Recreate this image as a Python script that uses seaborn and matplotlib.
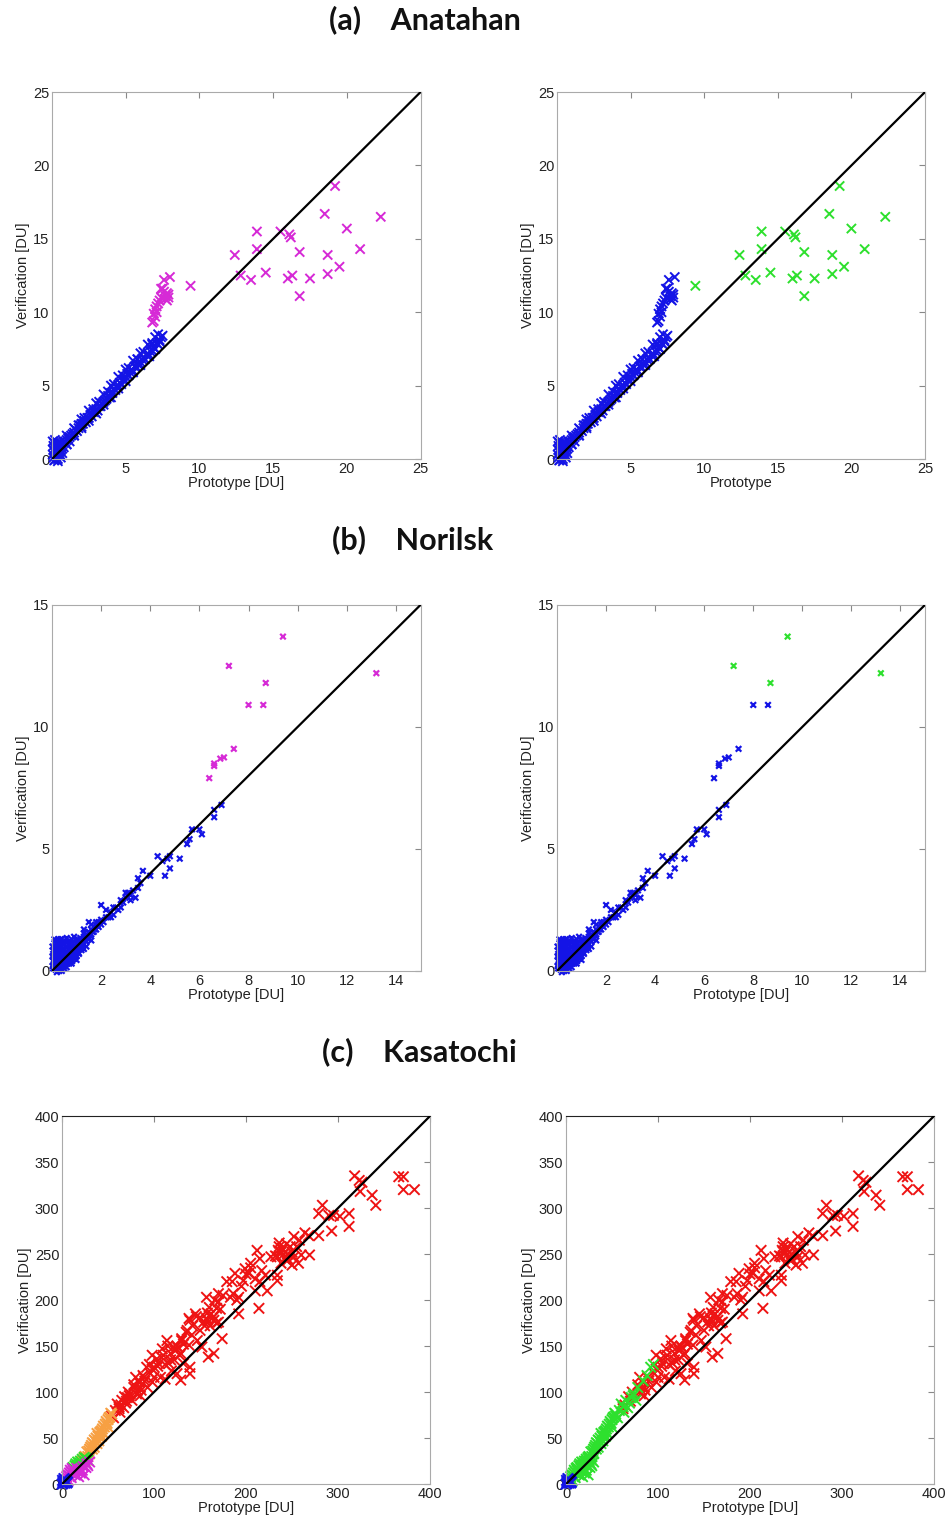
import pandas as pd
import seaborn as sns
import matplotlib.pyplot as plt

# ---------------- (a) Anatahan ----------------
ana_base_x = [0.05, 0.1, 0.1, 0.15, 0.2, 0.2, 0.25, 0.3, 0.3, 0.35, 0.4, 0.4, 0.45, 0.5, 0.5, 0.55,
              0.6, 0.6, 0.7, 0.7, 0.8, 0.8, 0.9, 1.0, 1.0, 1.1, 1.2, 1.2, 1.3, 1.4, 1.5, 1.5, 1.6,
              1.7, 1.8, 1.9, 2.0, 2.0, 2.1, 2.2, 2.3, 2.4, 2.5, 2.6, 2.7, 2.8, 2.9, 3.0, 3.1, 3.2,
              3.3, 3.4, 3.5, 3.6, 3.7, 3.8, 3.9, 4.0, 4.1, 4.2, 4.3, 4.4, 4.5, 4.6, 4.7, 4.8, 4.9,
              5.0, 5.1, 5.2, 5.3, 5.4, 5.5, 5.6, 5.7, 5.8, 5.9, 6.0, 6.1, 6.2, 6.3, 6.4, 6.5, 6.6,
              6.7, 6.8, 6.9, 7.0, 7.1, 7.2, 7.3, 7.4, 7.5,
              1.5, 2.5, 3.5, 4.5, 5.5, 6.5, 7.0, 3.0, 4.0, 5.0, 6.0, 2.0, 1.0, 7.3, 5.8, 6.8,
              0.5, 1.0, 1.5, 2.0, 2.5, 3.0, 3.5, 4.0, 4.5, 5.0, 5.5, 6.0, 6.5, 7.0,
              0.8, 1.8, 2.8, 3.8, 4.8, 5.8, 6.8, 2.2, 3.2, 4.2, 5.2, 6.2, 7.2,
              0.05, 0.1, 0.2, 0.3, 0.4, 0.6, 0.15, 0.5, 0.7]
ana_base_y = [0.3, 0.9, 0.1, 1.1, 0.5, -0.05, 0.8, 0.2, 1.0, 0.6, 0.0, 0.9, 0.5, 0.7, 1.1, 0.3,
              0.9, 0.6, 1.0, 0.7, 1.1, 0.8, 1.2, 1.3, 1.0, 1.4, 1.5, 1.2, 1.6, 1.7, 1.8, 1.6, 2.0,
              1.9, 2.1, 2.3, 2.2, 2.4, 2.4, 2.6, 2.5, 2.8, 2.8, 3.0, 2.9, 3.2, 3.2, 3.4, 3.3, 3.6,
              3.6, 3.8, 3.9, 4.0, 4.1, 4.3, 4.2, 4.5, 4.5, 4.8, 4.7, 4.9, 5.0, 5.2, 5.1, 5.4, 5.4,
              5.6, 5.8, 5.7, 5.9, 6.1, 6.0, 6.3, 6.3, 6.5, 6.4, 6.6, 6.8, 6.9, 6.8, 7.1, 7.2, 7.0,
              7.3, 7.4, 7.6, 7.5, 7.9, 7.8, 8.1, 8.3, 8.4,
              1.6, 2.6, 3.7, 4.8, 5.9, 7.0, 7.5, 3.1, 4.2, 5.3, 6.4, 2.1, 1.0, 8.0, 6.8, 7.9,
              1.0, 1.6, 2.1, 2.7, 3.3, 3.8, 4.4, 5.0, 5.6, 6.1, 6.7, 7.2, 7.8, 8.3,
              1.2, 2.3, 3.4, 4.6, 5.7, 6.8, 7.8, 2.8, 3.9, 5.1, 6.2, 7.3, 8.5,
              1.2, 0.6, 1.3, 0.4, -0.15, 0.1, -0.1, 0.4, 0.4]
ana_curve_x = [6.8, 6.9, 6.9, 7.0, 7.0, 7.1, 7.1, 7.2, 7.3, 7.4, 7.4, 7.5, 7.6, 7.6, 7.7, 7.7,
               7.8, 7.8, 7.9, 7.9, 8.0]
ana_curve_y = [9.3, 9.4, 9.9, 9.7, 10.2, 10.0, 10.4, 10.6, 10.8, 11.0, 11.6, 11.6, 12.2, 11.4,
               11.1, 10.9, 11.3, 10.8, 11.0, 11.2, 12.4]
ana_far_x = [9.4, 12.4, 12.8, 13.5, 13.9, 13.9, 14.5, 15.5, 16.1, 16.2, 16.0, 16.3, 16.8, 16.8,
             17.5, 18.5, 18.7, 18.7, 19.2, 19.5, 20.0, 20.9, 22.3]
ana_far_y = [11.8, 13.9, 12.5, 12.2, 15.5, 14.3, 12.7, 15.5, 15.3, 15.1, 12.3, 12.5, 14.1, 11.1,
             12.3, 16.7, 13.9, 12.6, 18.6, 13.1, 15.7, 14.3, 16.5]

# ---------------- (b) Norilsk ----------------
nor_base_x = [0.05, 0.05, 0.05, 0.1, 0.1, 0.1, 0.15, 0.15, 0.15, 0.2, 0.2, 0.2, 0.2, 0.25, 0.25,
              0.3, 0.3, 0.3, 0.3, 0.35, 0.35, 0.4, 0.4, 0.4, 0.45, 0.5, 0.5, 0.5, 0.55, 0.6, 0.6,
              0.6, 0.65, 0.7, 0.7, 0.7, 0.75, 0.8, 0.8, 0.85, 0.9, 0.9, 0.95, 1.0, 1.0, 1.05, 1.1,
              1.1, 1.2, 1.2, 1.3, 1.3, 1.4, 1.4, 1.5, 1.5, 1.6, 1.6, 1.7, 1.7, 1.8, 1.9, 1.9, 2.0,
              2.0, 2.1, 2.2, 2.3, 2.0, 1.5, 1.3, 0.3, 0.5, 0.7, 0.9, 1.1, 1.3, 0.15, 0.4, 0.8, 0.25,
              2.4, 2.5, 2.6, 2.7, 2.8, 2.9, 3.0, 3.1, 3.2, 3.3, 3.4, 3.5, 3.5, 3.6, 3.7, 4.0, 4.3,
              4.5, 4.6, 4.7, 4.8, 4.8, 5.2, 5.5, 5.6, 5.7, 6.0, 6.1, 6.6, 6.6, 6.9, 2.2,
              0.02, 0.02, 0.02, 0.08, 0.08, 0.12, 0.12, 0.12, 0.18, 0.18, 0.22, 0.22, 0.28, 0.28,
              0.28, 0.32, 0.32, 0.38, 0.38, 0.38, 0.42, 0.42, 0.48, 0.48, 0.52, 0.52, 0.58, 0.58,
              0.62, 0.62, 0.68, 0.68, 0.72, 0.78, 0.78, 0.82, 0.82, 0.88, 0.88, 0.92, 0.98, 0.98,
              1.02, 1.08, 1.08, 1.15, 1.15, 1.25, 1.25, 1.35, 1.45, 1.55, 1.65, 1.75, 1.85, 1.2,
              1.4, 1.6, 1.0, 0.1, 0.35, 0.6, 0.9, 1.3, 1.6, 1.8, 2.4, 2.5, 2.8, 3.0, 3.2,
              0.2, 0.4, 0.6, 0.8, 1.0]
nor_base_y = [0.1, 0.4, 0.7, 0.2, 0.5, 0.9, 0.05, 0.35, 0.7, 0.15, 0.5, 0.9, 1.1, 0.3, 0.7,
              0.1, 0.5, 0.9, 1.2, 0.3, 0.7, 0.2, 0.5, 1.0, 0.8, 0.3, 0.6, 1.1, 0.45, 0.4, 0.8,
              1.2, 0.6, 0.5, 0.9, 1.2, 0.7, 0.6, 1.0, 0.8, 0.7, 1.2, 0.95, 0.8, 1.1, 1.3, 0.9,
              1.2, 1.0, 1.3, 1.1, 1.4, 1.2, 1.5, 1.3, 1.6, 1.5, 1.7, 1.6, 1.8, 1.7, 1.8, 2.0, 1.9,
              2.1, 2.0, 2.2, 2.2, 2.7, 2.0, 1.7, 0.0, 0.1, 0.3, 0.5, 0.7, 0.9, 1.0, 1.3, 1.3, 1.3,
              2.4, 2.3, 2.6, 2.5, 2.9, 2.8, 3.0, 3.2, 3.1, 3.3, 3.0, 3.4, 3.8, 3.6, 4.1, 3.9, 4.7,
              4.5, 3.9, 4.6, 4.2, 4.7, 4.6, 5.2, 5.4, 5.8, 5.8, 5.6, 6.3, 6.6, 6.8, 2.5,
              0.2, 0.6, 1.0, 0.3, 0.8, 0.1, 0.6, 1.2, 0.25, 0.8, 0.4, 1.0, 0.2, 0.6,
              1.1, 0.35, 0.8, 0.15, 0.6, 1.15, 0.4, 0.9, 0.5, 1.2, 0.2, 0.85, 0.6, 1.0,
              0.3, 0.7, 0.45, 1.05, 0.75, 0.5, 0.9, 0.4, 1.15, 0.6, 1.0, 0.85, 0.65, 1.25,
              0.95, 0.75, 1.15, 1.05, 1.35, 0.95, 1.2, 1.25, 1.35, 1.45, 1.6, 1.7, 1.85, 0.85,
              1.0, 1.25, 0.6, 1.3, 1.3, 1.35, 1.4, 1.55, 1.9, 2.0, 2.2, 2.6, 2.6, 3.2, 2.9,
              -0.05, 0.0, 0.15, 0.3, 0.45]
nor_mid_x = [6.4, 6.6, 6.6, 6.85, 7.0, 7.4, 8.0, 8.6]
nor_mid_y = [7.9, 8.4, 8.5, 8.7, 8.75, 9.1, 10.9, 10.9]
nor_far_x = [7.2, 8.7, 9.4, 13.2]
nor_far_y = [12.5, 11.8, 13.7, 12.2]

# ---------------- (c) Kasatochi ----------------
kas_blue_x = [0, 1, 2, 3, 1, 4, 5, 2, 0.5, 3, 5, 6]
kas_blue_y = [0, 2, 3, 1, 0.5, 4, 3, 6, 4, 5, 1, 2]
kas_mag_x = [3, 5, 6, 8, 8, 10, 10, 12, 14, 15, 17, 18, 20, 22, 24, 7, 4, 9, 11, 26, 28, 30,
             13, 16, 19, 23, 27]
kas_mag_y = [5, 8, 10, 12, 9, 13, 7, 15, 12, 10, 14, 8, 12, 15, 10, 4, 2, 15, 17, 18, 20, 24,
             11, 17, 16, 19, 22]
kas_grn_x = [12, 14, 15, 17, 18, 20, 22, 24, 26, 16, 19, 21, 25, 28, 13]
kas_grn_y = [18, 20, 22, 24, 21, 25, 27, 29, 28, 19, 23, 22, 24, 26, 16]
kas_org_x = [22, 25, 27, 30, 32, 33, 35, 37, 38, 40, 42, 44, 45, 47, 48, 50, 52, 53, 30, 35,
             40, 45, 28, 33, 50, 25, 38, 43, 24, 29, 31, 34, 36, 39, 41, 43, 46, 49, 51, 54]
kas_org_y = [25, 30, 35, 38, 42, 45, 48, 50, 55, 53, 57, 60, 63, 65, 68, 70, 73, 77, 33, 40,
             47, 55, 30, 38, 62, 25, 44, 52, 28, 36, 40, 44, 47, 52, 56, 58, 62, 66, 72, 76]
kas_mid_x = [74, 71, 65, 60, 67, 58, 54, 63, 76, 78, 88, 92, 95, 56, 62, 69, 73, 84]
kas_mid_y = [98, 94, 91, 87, 83, 80, 74, 78, 91, 105, 118, 127, 130, 72, 84, 88, 96, 112]
kas_red_x = [366, 371, 371, 383, 318, 323, 326, 324, 337, 341, 283, 279, 290, 295, 302, 312,
             312, 293, 279, 268, 258, 264, 252, 244, 235, 239, 241, 234, 227, 244, 252, 260,
             269, 257, 250, 212, 205, 199, 203, 197, 210, 217, 221, 234, 234, 223, 215, 210,
             188, 179, 186, 192, 183, 170, 166, 157, 168, 192, 214, 145, 150, 157, 163, 154,
             161, 170, 150, 139, 136, 141, 130, 138, 147, 152, 159, 165, 174, 129, 121, 114,
             109, 103, 98, 100, 105, 116, 119, 112, 125, 132, 139, 139, 129, 96, 89, 98, 107,
             85, 80, 81, 85, 82, 93, 100, 160, 165, 158, 238, 242, 236, 110, 118, 123,
             162, 168, 158, 172, 165, 155, 160, 170, 175,
             240, 245, 248, 232, 236, 250, 255, 246, 238,
             108, 112, 118, 122, 126, 104, 115, 128, 132, 98,
             64, 70, 72, 78, 84, 86, 90, 62, 68,
             130, 135, 142, 138, 146, 125,
             195, 200, 205, 215, 190, 185]
kas_red_y = [334, 334, 320, 320, 335, 330, 328, 318, 314, 303, 303, 294, 292, 292, 291, 294,
             280, 275, 270, 270, 265, 273, 269, 261, 254, 256, 250, 247, 247, 243, 247, 249,
             249, 240, 238, 254, 240, 234, 229, 221, 223, 232, 227, 227, 221, 210, 220, 210,
             229, 220, 207, 203, 203, 207, 200, 203, 191, 185, 191, 185, 181, 180, 180, 176,
             172, 176, 167, 178, 167, 162, 156, 151, 156, 149, 138, 142, 158, 142, 149, 156,
             147, 136, 140, 127, 131, 131, 123, 114, 120, 131, 127, 120, 113, 120, 116, 111, 116,
             105, 116, 98, 96, 102, 105, 116, 183, 178, 186, 252, 245, 258, 140, 135, 145,
             185, 175, 178, 190, 182, 172, 192, 198, 205,
             255, 250, 258, 248, 262, 252, 258, 244, 240,
             138, 130, 142, 135, 148, 128, 150, 140, 152, 125,
             86, 90, 100, 108, 110, 102, 112, 82, 95,
             158, 165, 172, 180, 182, 150,
             215, 228, 235, 245, 200, 220]

colors = {'blue': '#1414e6', 'magenta': '#d62ad6', 'green': '#2ee02e',
          'orange': '#f7a043', 'red': '#ee1414'}


def build(groups):
    frames = []
    for xs, ys, c in groups:
        frames.append(pd.DataFrame({'x': xs, 'y': ys, 'c': c}))
    return pd.concat(frames, ignore_index=True)


panels = {
    'a_left': build([(ana_base_x, ana_base_y, 'blue'), (ana_curve_x, ana_curve_y, 'magenta'),
                     (ana_far_x, ana_far_y, 'magenta')]),
    'a_right': build([(ana_base_x, ana_base_y, 'blue'), (ana_curve_x, ana_curve_y, 'blue'),
                      (ana_far_x, ana_far_y, 'green')]),
    'b_left': build([(nor_base_x, nor_base_y, 'blue'), (nor_mid_x, nor_mid_y, 'magenta'),
                     (nor_far_x, nor_far_y, 'magenta')]),
    'b_right': build([(nor_base_x, nor_base_y, 'blue'), (nor_mid_x, nor_mid_y, 'blue'),
                      (nor_far_x, nor_far_y, 'green')]),
    'c_left': build([(kas_red_x, kas_red_y, 'red'), (kas_mid_x, kas_mid_y, 'red'),
                     (kas_org_x, kas_org_y, 'orange'), (kas_grn_x, kas_grn_y, 'green'),
                     (kas_mag_x, kas_mag_y, 'magenta'), (kas_blue_x, kas_blue_y, 'blue')]),
    'c_right': build([(kas_red_x, kas_red_y, 'red'), (kas_mid_x, kas_mid_y, 'green'),
                      (kas_org_x, kas_org_y, 'green'), (kas_grn_x, kas_grn_y, 'green'),
                      (kas_mag_x, kas_mag_y, 'green'), (kas_blue_x, kas_blue_y, 'blue')]),
}

sns.set_style('white')
plt.rcParams['font.family'] = ['Liberation Sans', 'DejaVu Sans']

fig = plt.figure(figsize=(9.5, 15.24), dpi=100)

# axes rectangles (figure fractions)
layout = {
    'a_left': [0.0547, 0.6988, 0.388, 0.2408],
    'a_right': [0.5863, 0.6988, 0.3874, 0.2408],
    'b_left': [0.0547, 0.3629, 0.388, 0.2402],
    'b_right': [0.5863, 0.3629, 0.3874, 0.2402],
    'c_left': [0.0653, 0.0262, 0.3874, 0.2415],
    'c_right': [0.5958, 0.0262, 0.3874, 0.2415],
}
settings = {
    'a': dict(lim=25, xt=[5, 10, 15, 20, 25], yt=[0, 5, 10, 15, 20, 25], s=44, lw=1.4),
    'b': dict(lim=15, xt=[2, 4, 6, 8, 10, 12, 14], yt=[0, 5, 10, 15], s=16, lw=1.6),
    'c': dict(lim=400, xt=[0, 100, 200, 300, 400], yt=[0, 50, 100, 150, 200, 250, 300, 350, 400],
              s=56, lw=1.4),
}

for key, rect in layout.items():
    row = key[0]
    st = settings[row]
    ax = fig.add_axes(rect)
    sns.scatterplot(data=panels[key], x='x', y='y', hue='c', palette=colors, marker='x',
                    s=st['s'], linewidth=st['lw'], legend=False, ax=ax, zorder=2,
                    clip_on=False)
    ax.axline((0, 0), slope=1, color='black', lw=1.6, zorder=3)
    ax.set_xlim(0, st['lim'])
    ax.set_ylim(0, st['lim'])
    ax.set_xticks(st['xt'])
    ax.set_yticks(st['yt'])
    ax.tick_params(direction='in', top=True, right=True, length=4, width=0.8,
                   color='#888888', labelsize=10.5, labelcolor='#222222', pad=2)
    for sp in ax.spines.values():
        sp.set_color('#aaaaaa')
        sp.set_linewidth(0.8)
    if row == 'c':
        ax.spines['top'].set_color('#222222')
    xlabel = 'Prototype' if key == 'a_right' else 'Prototype [DU]'
    ax.set_xlabel(xlabel, fontsize=10.5, labelpad=0, color='#222222')
    ax.set_ylabel('Verification [DU]', fontsize=10.5, labelpad=2, color='#222222')

title_kw = dict(ha='center', va='center', fontsize=22, fontweight='bold',
                family=['Lato', 'DejaVu Sans'], color='#111111')
fig.text(0.447, 0.987, '(a)    Anatahan', **title_kw)
fig.text(0.434, 0.6457, '(b)    Norilsk', **title_kw)
fig.text(0.442, 0.3097, '(c)    Kasatochi', **title_kw)

fig.savefig('out.png', dpi=100)
